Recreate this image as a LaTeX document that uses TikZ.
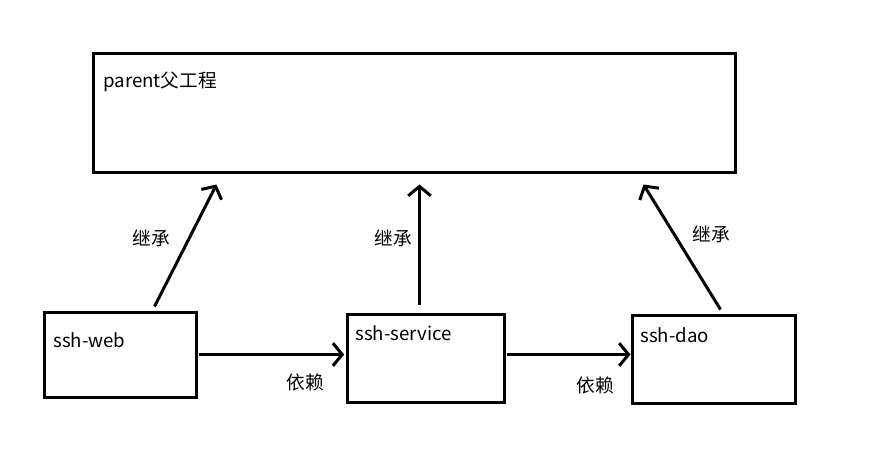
\documentclass[tikz,border=0pt]{standalone}
\usepackage{fontspec}
\newfontfamily\cjk{Noto Sans CJK SC}
\usetikzlibrary{arrows.meta}

\begin{document}
\begin{tikzpicture}[
      x=0.75pt, y=-0.75pt,
      module/.style={draw, line width=2.25pt, rectangle, inner sep=0pt},
      caption/.style={anchor=west, inner sep=0pt, font=\cjk\fontsize{14}{16}\selectfont},
      word/.style={inner sep=0pt, font=\cjk\fontsize{14}{16}\selectfont},
      arr/.style={line width=2.25pt, -{Straight Barb[length=7pt,width=17pt,line width=2.25pt]}}
    ]
    \useasboundingbox (0,0) rectangle (889,462);
    % Draw the modules.
    \node[module, minimum width=642*0.75pt, minimum height=119*0.75pt] (parent) at (414,112.5) {};
    \node[module, minimum width=152*0.75pt, minimum height=85*0.75pt]  (web)     at (120,354.5) {};
    \node[module, minimum width=157*0.75pt, minimum height=88*0.75pt]  (service) at (425.5,358) {};
    \node[module, minimum width=163*0.75pt, minimum height=88*0.75pt]  (dao)     at (713.5,359) {};
    % Write the module names.
    \node[caption] (parenttext)  at (103,82)  {parent父工程};
    \node[caption] (webtext)     at (53,340)  {ssh-web};
    \node[caption] (servicetext) at (355,333) {ssh-service};
    \node[caption] (daotext)     at (640,335) {ssh-dao};
    % Draw the inheritance arrows.
    \draw[arr] ([shift={(112,-4)}]web.north west)     -- ([shift={(125,11)}]parent.south west);
    \draw[arr] ([shift={(74,-8)}]service.north west)  -- ([shift={(328,11)}]parent.south west);
    \draw[arr] ([shift={(90,-4)}]dao.north west)      -- ([shift={(552,11)}]parent.south west);
    \node[word] (inherit1) at (151,238) {继承};
    \node[word] (inherit2) at (393,238) {继承};
    \node[word] (inherit3) at (711,234) {继承};
    % Draw the dependency arrows.
    \draw[arr] ([xshift=1]web.east) -- ([xshift=-1]web.east -| service.west);
    \draw[arr] ([xshift=1]service.east |- web.east) -- (web.east -| dao.west);
    \node[word] (depend1) at (305,382) {依赖};
    \node[word] (depend2) at (595,385) {依赖};
\end{tikzpicture}
\end{document}
